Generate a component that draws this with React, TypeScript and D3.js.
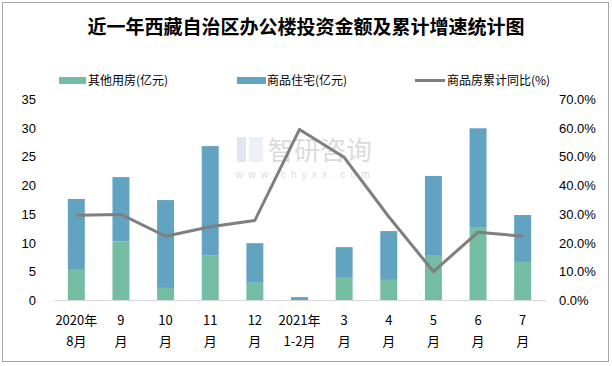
import * as React from 'react';
import * as d3 from 'd3';

const categories = [
  ['2020年', '8月'], ['9', '月'], ['10', '月'], ['11', '月'], ['12', '月'],
  ['2021年', '1-2月'], ['3', '月'], ['4', '月'], ['5', '月'], ['6', '月'], ['7', '月'],
];
const otherValues = [5.4, 10.2, 2.1, 7.8, 3.0, 0.0, 4.0, 3.5, 7.7, 12.7, 6.6];
const residentialValues = [12.2, 11.2, 15.3, 19.0, 6.9, 0.5, 5.2, 8.5, 13.9, 17.2, 8.2];
const growthValues = [29.5, 29.8, 22.2, 25.5, 27.7, 59.4, 49.7, 29.0, 9.9, 23.6, 22.2];
const leftTicks = [0, 5, 10, 15, 20, 25, 30, 35];
const rightTicks = [0, 10, 20, 30, 40, 50, 60, 70];

const W = 612;
const H = 366;
const GREEN = '#74bca2';
const BLUE = '#62a3c2';
const LINE = '#7f7f7f';
const FONT = '"Liberation Sans", "Noto Sans CJK SC", sans-serif';
const CJK = '"Noto Sans CJK SC", sans-serif';

export default function App() {
  const x = d3.scaleBand<number>().domain(d3.range(categories.length)).range([54, 545]).paddingInner(0.62).paddingOuter(0.31);
  const yL = d3.scaleLinear().domain([0, 35]).range([300, 99]);
  const yR = d3.scaleLinear().domain([0, 70]).range([300, 99]);
  const cx = (i: number) => (x(i) as number) + x.bandwidth() / 2;

  const line = d3.line<number>().x((_, i) => cx(i)).y((d) => yR(d));

  return (
    <svg width={W} height={H} style={{ position: 'absolute', left: 0, top: 0 }}>
      <rect x={0} y={0} width={W} height={H} fill="#fff" />
      <rect x={2.5} y={2.5} width={W - 6} height={H - 7} fill="none" stroke="#a6a6a6" />
      <text x={306} y={34} textAnchor="middle" fontFamily={CJK} fontWeight="bold" fontSize={19} fill="#000">
        近一年西藏自治区办公楼投资金额及累计增速统计图
      </text>

      {/* legend */}
      <g fontFamily={CJK} fontSize={12} fill="#000">
        <rect x={59} y={77} width={27} height={7} fill={GREEN} />
        <text x={88} y={85}>其他用房(亿元)</text>
        <rect x={237} y={77} width={29} height={7} fill={BLUE} />
        <text x={267} y={85}>商品住宅(亿元)</text>
        <line x1={415} x2={445} y1={80.5} y2={80.5} stroke={LINE} strokeWidth={3} />
        <text x={447} y={85}>商品房累计同比(%)</text>
      </g>

      {/* watermark */}
      <g opacity={0.35}>
        <rect x={237} y={137} width={9} height={25} fill="#a9b9d4" />
        <rect x={249} y={137} width={14} height={25} fill="#c7d6ea" />
        <text x={268} y={160} fontFamily={CJK} fontSize={26} fill="#9a9a9a">智研咨询</text>
        <text x={236} y={178} fontFamily={FONT} fontSize={10} fill="#9a9a9a" letterSpacing={5.2}>www.chyxx.com</text>
      </g>

      {/* bars */}
      {categories.map((_, i) => (
        <g key={i}>
          <rect x={x(i)} width={x.bandwidth()} y={yL(otherValues[i])} height={yL(0) - yL(otherValues[i])} fill={GREEN} />
          <rect
            x={x(i)}
            width={x.bandwidth()}
            y={yL(otherValues[i] + residentialValues[i])}
            height={yL(otherValues[i]) - yL(otherValues[i] + residentialValues[i])}
            fill={BLUE}
          />
        </g>
      ))}

      <line x1={54} x2={546} y1={300.5} y2={300.5} stroke="#d9d9d9" />

      <path d={line(growthValues) || ''} fill="none" stroke={LINE} strokeWidth={3} strokeLinejoin="round" />

      {/* left axis */}
      <g fontFamily={FONT} fontSize={13} fill="#000">
        {leftTicks.map((t) => (
          <text key={t} x={36} y={yL(t) + 5} textAnchor="end">{t}</text>
        ))}
        {rightTicks.map((t) => (
          <text key={t} x={559} y={yR(t) + 5}>{t.toFixed(1)}%</text>
        ))}
      </g>

      {/* x labels */}
      <g fontFamily={CJK} fontSize={13} fill="#000" textAnchor="middle">
        {categories.map((c, i) => (
          <g key={i}>
            <text x={cx(i)} y={325}>{c[0]}</text>
            <text x={cx(i)} y={346}>{c[1]}</text>
          </g>
        ))}
      </g>
    </svg>
  );
}
